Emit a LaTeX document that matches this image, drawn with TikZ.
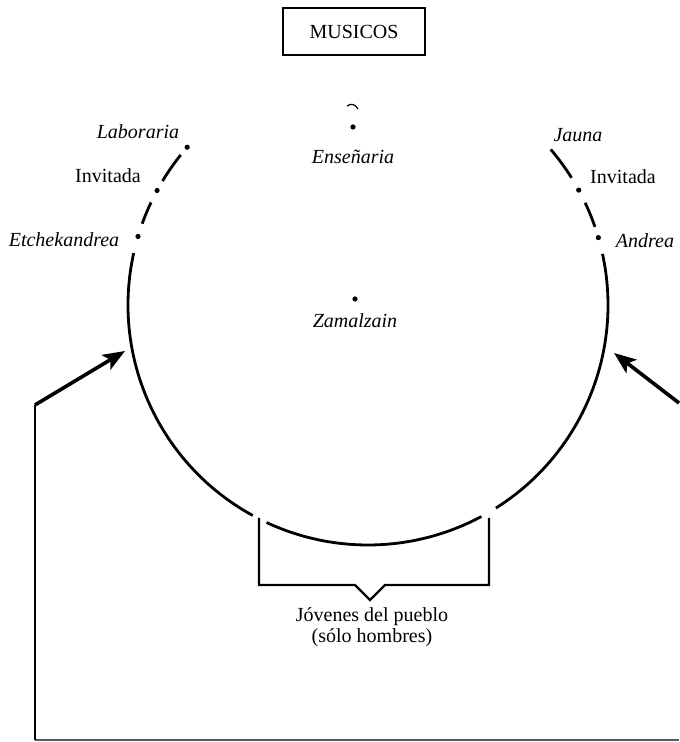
\documentclass[tikz,border=0pt]{standalone}
\usepackage{fontspec}
\setmainfont{Liberation Serif}
\usepackage{tikz}
\usetikzlibrary{arrows.meta}
\tikzset{
  danse/.style = {font=\fontsize{10}{10.5}\selectfont, inner sep=0pt,
    align=center},
  dan_nom/.style = {danse, font=\fontsize{10}{10.5}\selectfont\itshape},% danseur, nom
  dan_inv/.style = {danse},% invitada
  dan_pt/.style = {circle, fill=black, inner sep=0pt,
    minimum size=2.6pt},% place du danseur
  dan_box/.style = {danse, draw=black, line width=1pt,
    minimum width=71pt, minimum height=23.5pt},% musiciens
  rond/.style = {line width=1.4pt},% cercle
  fleche/.style = {->, >={Stealth[length=11pt, width=8.5pt, inset=2.5pt]},
    line width=1.8pt}% entree
}

\begin{document}
\begin{tikzpicture}[x=0.5pt, y=0.5pt]
\useasboundingbox (0,0) rectangle (679,742);
\coordinate (c) at (368,437);
\node [dan_box] (mus) at (354,710.5) {MUSICOS};
% cercle
\foreach \a/\b in {141.3/148.9, 154.7/160.2, 167.5/241.3, 245/298.2,
    302.2/372.3, 19/25.2, 32/40.4}
  \draw [rond] ([shift={(\a:120pt)}]c) arc [start angle=\a, end angle=\b,
    radius=120pt];
% gauche
\node [dan_pt] (labp) at ([shift={(138.9:120pt)}]c) {};
\node [dan_nom] (lab) at (138,610) {Laboraria};
\node [dan_pt] (invgp) at ([shift={(151.5:120pt)}]c) {};
\node [dan_inv] (invg) at (108,566) {Invitada};
\node [dan_pt] (etcp) at ([shift={(163.4:120pt)}]c) {};
\node [dan_nom] (etc) at (64,502) {Etchekandrea};
% droite
\node [dan_nom] (jau) at (578,607) {Jauna};
\node [dan_pt] (invdp) at ([shift={(28.6:120pt)}]c) {};
\node [dan_inv] (invd) at (623,565) {Invitada};
\node [dan_pt] (andp) at ([shift={(16.3:120pt)}]c) {};
\node [dan_nom] (and) at (645,501) {Andrea};
% centre
\draw [line width=0.6pt] (347,636) .. controls (351,639) and (355,638) .. (358,633);
\node [dan_pt] (ensp) at (353,615) {};
\node [dan_nom] (ens) at (353,585) {Enseñaria};
\node [dan_pt] (zamp) at (355,443) {};
\node [dan_nom] (zam) at (355,421) {Zamalzain};
% jovenes
\draw [line width=1.1pt] (259,224) -- (259,157) -- (355,157) -- (370,142)
  -- (385,157) -- (489,157) -- (489,224);
\node [danse] (jov) at (372,114.5) {Jóvenes del pueblo\\(sólo hombres)};
% entrees
\coordinate (bd) at (679,1.5);
\coordinate (bg) at (35,1.5);
\coordinate (ag) at (35,337);
\coordinate (tg) at (125,391);
\coordinate (ad) at (679,339);
\coordinate (td) at (614,389);
\draw [line width=1pt, gray!70!black] (bd) -- (bg);
\draw [line width=1pt] (bg) -- (ag);
\draw [fleche] (ag) -- (tg);
\draw [fleche] (ad) -- (td);
\end{tikzpicture}
\end{document}
